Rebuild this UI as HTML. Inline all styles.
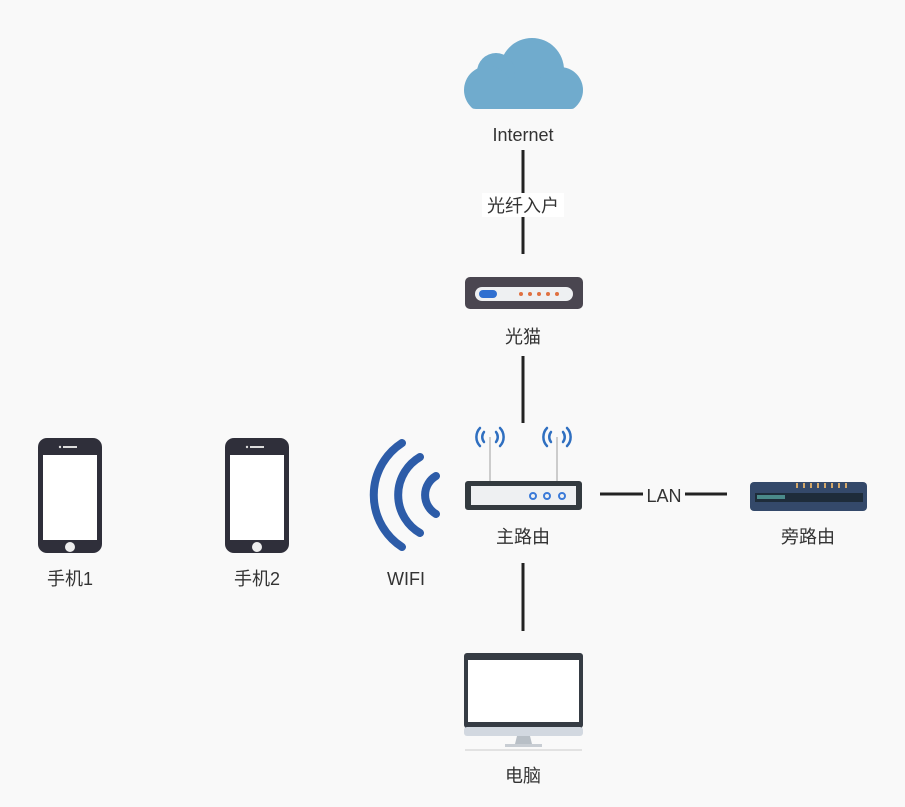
<!DOCTYPE html>
<html><head><meta charset="utf-8"><style>
html,body{margin:0;padding:0;background:#f9f9f9;}
svg{display:block}
text{font-family:"Liberation Sans","Noto Sans CJK SC",sans-serif;font-size:18px;fill:#333;text-anchor:middle}
</style></head><body>
<svg width="905" height="807" viewBox="0 0 905 807">
<defs><clipPath id="cc"><rect x="464" y="30" width="119" height="79" rx="12"/></clipPath></defs>
<rect width="905" height="807" fill="#f9f9f9"/>
<g stroke="#222" stroke-width="3">
<line x1="523" y1="150" x2="523" y2="254"/>
<line x1="523" y1="356" x2="523" y2="423"/>
<line x1="523" y1="563" x2="523" y2="631"/>
<line x1="600" y1="494" x2="727" y2="494"/>
</g>
<rect x="482" y="193" width="82" height="24" fill="#fff"/>
<text x="523" y="212">光纤入户</text>
<rect x="643" y="484" width="42" height="22" fill="#f9f9f9"/>
<text x="664" y="502">LAN</text>
<g fill="#70abcd" clip-path="url(#cc)">
<circle cx="532" cy="70" r="32"/>
<circle cx="496" cy="72" r="19"/>
<circle cx="488" cy="90" r="24"/>
<circle cx="560" cy="90" r="23"/>
<rect x="486" y="78" width="76" height="31"/>
</g>
<text x="523" y="141">Internet</text>
<rect x="465" y="277" width="118" height="32" rx="5" fill="#4a4650"/>
<rect x="475" y="287" width="98" height="14" rx="7" fill="#eef0f2"/>
<rect x="479" y="290" width="18" height="8" rx="4" fill="#2f6fd0"/>
<g fill="#e07040"><circle cx="521" cy="294" r="2"/><circle cx="530" cy="294" r="2"/><circle cx="539" cy="294" r="2"/><circle cx="548" cy="294" r="2"/><circle cx="557" cy="294" r="2"/></g>
<text x="523" y="343">光猫</text>
<g stroke="#ccc" stroke-width="2"><line x1="490" y1="437" x2="490" y2="483"/><line x1="557" y1="437" x2="557" y2="483"/></g>
<g fill="none" stroke="#2f6fc0" stroke-width="2.5" stroke-linecap="round">
<path d="M484 432 a8 8 0 0 0 0 10"/><path d="M480 428 a13 13 0 0 0 0 18"/>
<path d="M496 432 a8 8 0 0 1 0 10"/><path d="M500 428 a13 13 0 0 1 0 18"/>
<path d="M551 432 a8 8 0 0 0 0 10"/><path d="M547 428 a13 13 0 0 0 0 18"/>
<path d="M563 432 a8 8 0 0 1 0 10"/><path d="M567 428 a13 13 0 0 1 0 18"/>
</g>
<rect x="465" y="481" width="117" height="29" rx="3" fill="#333a3f"/>
<rect x="471" y="486" width="105" height="19" fill="#eef0f2"/>
<g fill="none" stroke="#3a7ad8" stroke-width="2"><circle cx="533" cy="496" r="3"/><circle cx="547" cy="496" r="3"/><circle cx="562" cy="496" r="3"/></g>
<text x="523" y="543">主路由</text>
<rect x="750" y="482" width="117" height="29" rx="4" fill="#34496a"/>
<g fill="#d4a86a"><rect x="796" y="483" width="2" height="5"/><rect x="803" y="483" width="2" height="5"/><rect x="810" y="483" width="2" height="5"/><rect x="817" y="483" width="2" height="5"/><rect x="824" y="483" width="2" height="5"/><rect x="831" y="483" width="2" height="5"/><rect x="838" y="483" width="2" height="5"/><rect x="845" y="483" width="2" height="5"/></g>
<rect x="755" y="493" width="108" height="9" fill="#1e2c3a"/>
<rect x="757" y="495" width="28" height="4" fill="#4a8a8a"/>
<text x="808" y="543">旁路由</text>
<g fill="none" stroke="#2d5ca8" stroke-width="8" stroke-linecap="round">
<path d="M402 443 A62 62 0 0 0 402 547"/>
<path d="M420 457 A44 44 0 0 0 420 533"/>
<path d="M436 476 A22 22 0 0 0 436 514"/>
</g>
<text x="406" y="585">WIFI</text>
<g>
<rect x="38" y="438" width="64" height="115" rx="9" fill="#2f2f3a"/>
<rect x="43" y="455" width="54" height="85" fill="#fff"/>
<rect x="63" y="446" width="14" height="2" fill="#ddd"/><circle cx="60" cy="447" r="1.2" fill="#ddd"/>
<circle cx="70" cy="547" r="5" fill="#eee"/>
</g>
<text x="70" y="585">手机1</text>
<g transform="translate(187,0)">
<rect x="38" y="438" width="64" height="115" rx="9" fill="#2f2f3a"/>
<rect x="43" y="455" width="54" height="85" fill="#fff"/>
<rect x="63" y="446" width="14" height="2" fill="#ddd"/><circle cx="60" cy="447" r="1.2" fill="#ddd"/>
<circle cx="70" cy="547" r="5" fill="#eee"/>
</g>
<text x="257" y="585">手机2</text>
<rect x="464" y="653" width="119" height="75" rx="3" fill="#363c44"/>
<rect x="468" y="660" width="111" height="62" fill="#fff"/>
<rect x="464" y="727" width="119" height="9" rx="3" fill="#d2d8e0"/>
<path d="M517 736 L530 736 L532 744 L515 744 Z" fill="#b8bfc6"/>
<rect x="505" y="744" width="37" height="3" fill="#c8cdd3"/>
<line x1="465" y1="750" x2="582" y2="750" stroke="#ccc" stroke-width="1"/>
<text x="523" y="782">电脑</text>
</svg>
</body></html>
